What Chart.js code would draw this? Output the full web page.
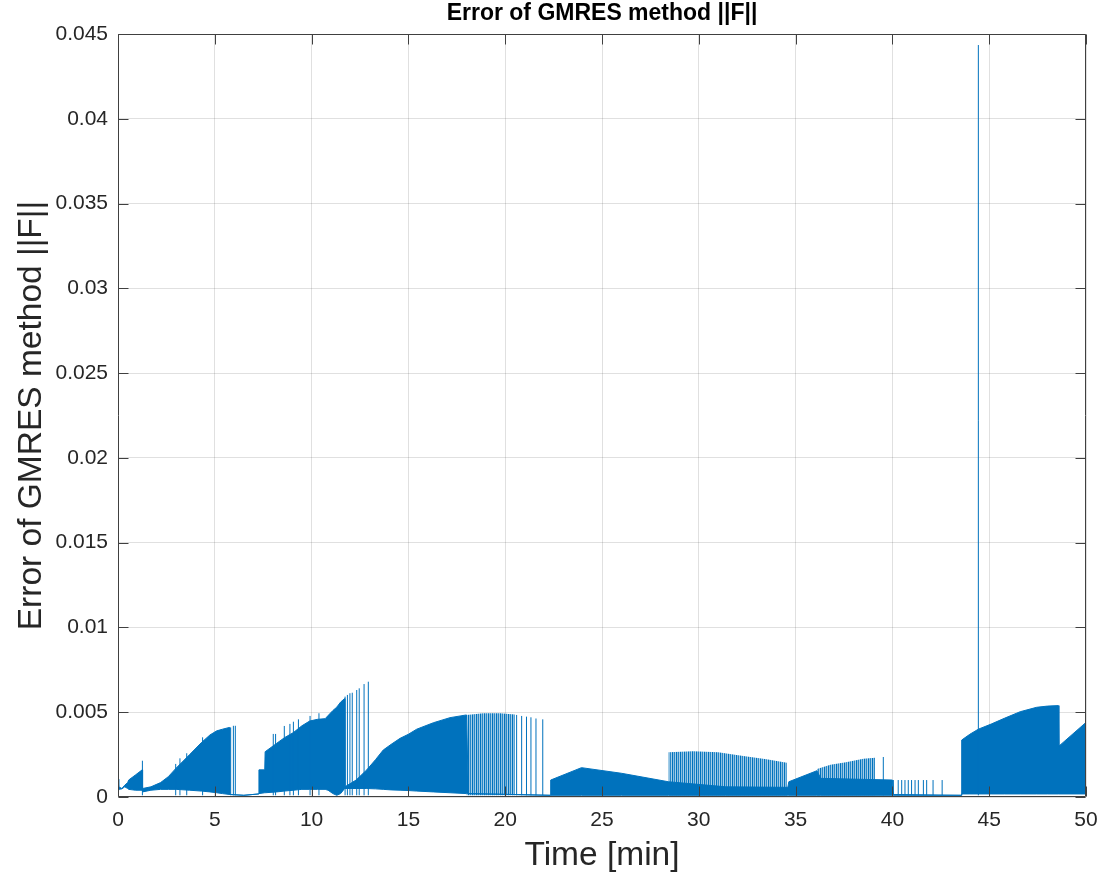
<!DOCTYPE html>
<html>
<head>
<meta charset="utf-8">
<script src="https://cdn.jsdelivr.net/npm/chart.js@4.4.1/dist/chart.umd.min.js"></script>
<style>
html,body{margin:0;padding:0;background:#fff;}
#wrap{width:1104px;height:878px;}
</style>
</head>
<body>
<div id="wrap"><canvas id="c" width="1104" height="878"></canvas></div>
<script>
// ---------- data ----------
const titleText = "Error of GMRES method ||F||";
const xTitle = "Time [min]";
const yTitle = "Error of GMRES method ||F||";
const xTicks = [0,5,10,15,20,25,30,35,40,45,50];
const yTicks = [0,0.005,0.01,0.015,0.02,0.025,0.03,0.035,0.04,0.045];

// solid band of the fast oscillation: time [min], upper envelope, lower envelope
const bandT = [
  0.00,0.04,0.20,0.35,0.50,0.55,0.90,1.25,
  1.27,1.70,2.20,2.60,3.00,3.70,4.30,4.75,5.10,5.40,5.75,
  5.77,6.50,7.27,
  7.28,7.58,7.60,8.20,8.60,9.06,9.50,9.90,10.30,10.70,10.85,11.10,11.30,11.50,11.70,
  11.72,12.30,12.85,13.30,13.70,14.10,14.57,15.00,15.43,16.29,17.15,18.00,18.10,22.34,
  22.35,23.94,26.00,28.43,31.40,34.60,
  34.65,36.10,36.30,40.00,40.05,43.57,
  43.58,44.00,44.44,45.10,45.78,46.60,47.45,48.00,48.57,48.60,49.98,50.00];
const bandHi = [
  0.00105,0.0006,0.0005,0.0007,0.00085,0.0010,0.0013,0.0016,
  0.0005,0.0006,0.00085,0.0012,0.0017,0.0025,0.0032,0.00366,0.0039,0.0040,0.0041,
  0.00015,0.0001,0.00018,
  0.0016,0.0016,0.00267,0.00317,0.0035,0.0038,0.0042,0.00448,0.00458,0.00462,0.0048,0.0051,0.0053,0.0056,0.0058,
  0.0006,0.0010,0.0016,0.0022,0.00277,0.0031,0.00346,0.0037,0.0040,0.00438,0.00468,0.00484,0.0002,0.0001,
  0.0010,0.00173,0.0014,0.0009,0.0006,0.00057,
  0.0009,0.00155,0.0011,0.0010,0.00015,0.0001,
  0.00336,0.0037,0.0040,0.0043,0.00464,0.00503,0.00529,0.00536,0.00539,0.0030,0.00438,0.0044];
const bandLo = [
  0.0004,0.00045,0.00048,0.0006,0.0005,0.00045,0.0004,0.0004,
  0.0003,0.0004,0.00045,0.00045,0.00045,0.0004,0.00035,0.0003,0.00025,0.0002,0.00015,
  0.00015,0.0001,0.00018,
  0.0002,0.00025,0.00025,0.0003,0.00035,0.0004,0.00045,0.00045,0.00045,0.00045,0.0004,0.0002,0.0001,0.0002,0.0005,
  0.0005,0.0005,0.0005,0.00048,0.00045,0.00042,0.0004,0.00038,0.00035,0.0003,0.00025,0.0002,0.0002,0.0001,
  0.0001,0.0001,0.0001,0.0001,0.0001,0.0001,
  0.0001,0.0001,0.0001,0.0001,0.0001,0.0001,
  0.00018,0.00018,0.00018,0.00018,0.00018,0.00018,0.00018,0.00018,0.00018,0.00018,0.00018,0.00018];

// densely striped parts (top of the stripes)
const stripeAT = [18.0,18.87,19.73,20.5];
const stripeAHi = [0.00484,0.00494,0.00494,0.00486];
const stripeBT = [28.43,29.7,31.0,32.3,33.5,34.55];
const stripeBHi = [0.00264,0.0027,0.00264,0.00242,0.00222,0.00202];
const stripeCT = [36.1,36.8,37.6,38.5,39.1];
const stripeCHi = [0.00165,0.0019,0.00205,0.00225,0.00232];
const stripeFloor = 0.0001;

// isolated spikes: time [min], peak value
const spikeT  = [1.26,2.98,3.2,3.55,4.37,5.82,5.96,6.06,8.02,8.14,8.59,8.88,9.06,9.32,9.92,10.38,11.73,11.85,11.98,12.1,12.33,12.46,12.71,12.93,20.59,20.85,21.1,21.33,21.59,21.94,39.53,40.05,40.3,40.48,40.65,40.82,40.99,41.17,41.34,41.6,41.77,42.1,42.57,44.44];
const spikeHi = [0.00214,0.00195,0.00228,0.00258,0.00352,0.0041,0.0042,0.0042,0.00372,0.00372,0.00419,0.00431,0.00444,0.00458,0.00478,0.00494,0.00592,0.00602,0.00612,0.00615,0.00631,0.00641,0.00666,0.0068,0.00484,0.00478,0.00474,0.0047,0.00463,0.00458,0.00236,0.001,0.001,0.001,0.001,0.001,0.001,0.001,0.001,0.001,0.001,0.001,0.001,0.04435];
const spikeFloor = 0.0001;

// ---------- drawing ----------
const BLUE = '#0072BD';
const FONT = '"Liberation Sans", Arial, Helvetica, sans-serif';
const TXT = '#262626';

const canvas = document.getElementById('c');
const ctx0 = canvas.getContext('2d');
const pc = document.createElement('canvas');
pc.width = 4; pc.height = 1;
const pg = pc.getContext('2d');
pg.fillStyle = BLUE; pg.fillRect(0,0,1,1);
pg.fillStyle = 'rgba(0,114,189,0.45)'; pg.fillRect(1,0,1,1);
pg.fillStyle = 'rgba(0,114,189,0.85)'; pg.fillRect(2,0,1,1);
pg.fillStyle = 'rgba(0,114,189,0.35)'; pg.fillRect(3,0,1,1);
const stripePattern = ctx0.createPattern(pc, 'repeat');

const lo = bandT.map((t,i)=>({x:t,y:bandLo[i]}));
const hi = bandT.map((t,i)=>({x:t,y:bandHi[i]}));
const spikes = [];
spikeT.forEach((t,i)=>{ spikes.push({x:t,y:spikeFloor},{x:t,y:spikeHi[i]},{x:t,y:null}); });
function stripeSet(T,H){
  return {data:T.map((t,i)=>({x:t,y:H[i]})), borderWidth:0, borderColor:'rgba(0,0,0,0)',
    backgroundColor:stripePattern, fill:{value:stripeFloor}, pointRadius:0, order:3};
}

const frame = {
  id:'frame',
  afterLayout(chart){
    const tb = chart.titleBlock, a = chart.chartArea;
    if (tb){ tb.left = a.left; tb.right = a.right; tb.width = a.right - a.left; }
  },
  afterDatasetsDraw(chart){
    const {ctx, chartArea:a, scales:{x,y}} = chart;
    ctx.save();
    ctx.strokeStyle = '#404040';
    ctx.lineWidth = 1;
    ctx.beginPath();
    const L = Math.round(a.left)+0.5, R = Math.round(a.right)-0.5, T = Math.round(a.top)+0.5, B = Math.round(a.bottom)-0.5;
    ctx.rect(L, T, R-L, B-T);
    x.ticks.forEach(tk=>{
      const px = Math.round(x.getPixelForValue(tk.value))+0.5;
      ctx.moveTo(px,B); ctx.lineTo(px,B-10);
      ctx.moveTo(px,T); ctx.lineTo(px,T+10);
    });
    y.ticks.forEach(tk=>{
      const py = Math.round(y.getPixelForValue(tk.value))+0.5;
      ctx.moveTo(L,py); ctx.lineTo(L+10,py);
      ctx.moveTo(R,py); ctx.lineTo(R-10,py);
    });
    ctx.stroke();
    ctx.restore();
  }
};

new Chart(canvas, {
  type:'line',
  data:{datasets:[
    {data:lo, borderColor:BLUE, borderWidth:1, pointRadius:0, fill:false, order:2},
    {data:hi, borderColor:BLUE, borderWidth:1, pointRadius:0, fill:0, backgroundColor:BLUE, order:1},
    stripeSet(stripeAT,stripeAHi),
    stripeSet(stripeBT,stripeBHi),
    stripeSet(stripeCT,stripeCHi),
    {data:spikes, borderColor:BLUE, borderWidth:1, pointRadius:0, fill:false, spanGaps:false, order:0}
  ]},
  options:{
    responsive:false,
    animation:false,
    events:[],
    layout:{padding:{left:0,right:18,top:0,bottom:0}},
    elements:{line:{tension:0}},
    plugins:{
      legend:{display:false},
      tooltip:{enabled:false},
      title:{display:true, text:titleText, color:'#000',
        font:{family:FONT, size:23, weight:'bold', lineHeight:1.2}, padding:{top:0,bottom:6.4}}
    },
    scales:{
      x:{type:'linear', min:0, max:50,
        afterFit(s){ s.height = 81; s.paddingLeft = 0; s.paddingRight = 0; },
        afterBuildTicks(s){ s.ticks = xTicks.map(v=>({value:v})); },
        ticks:{color:TXT, font:{family:FONT,size:21}, padding:11, maxRotation:0, autoSkip:false,
          callback:v=>String(v)},
        grid:{color:'rgba(38,38,38,0.14)', drawTicks:false},
        border:{display:false},
        title:{display:true, text:xTitle, color:TXT, font:{family:FONT,size:33.5,lineHeight:1.2}, padding:{top:0,bottom:2}}
      },
      y:{type:'linear', min:0, max:0.045,
        afterFit(s){ s.width = 118; s.paddingTop = 0; s.paddingBottom = 0; },
        afterBuildTicks(s){ s.ticks = yTicks.map(v=>({value:v})); },
        ticks:{color:TXT, font:{family:FONT,size:21}, padding:10, autoSkip:false,
          callback:v=>String(parseFloat(v.toFixed(4)))},
        grid:{color:'rgba(38,38,38,0.14)', drawTicks:false},
        border:{display:false},
        title:{display:true, text:yTitle, color:TXT, font:{family:FONT,size:33.5,lineHeight:1.2}, padding:{top:12,bottom:0}}
      }
    }
  },
  plugins:[frame]
});
</script>
</body>
</html>
